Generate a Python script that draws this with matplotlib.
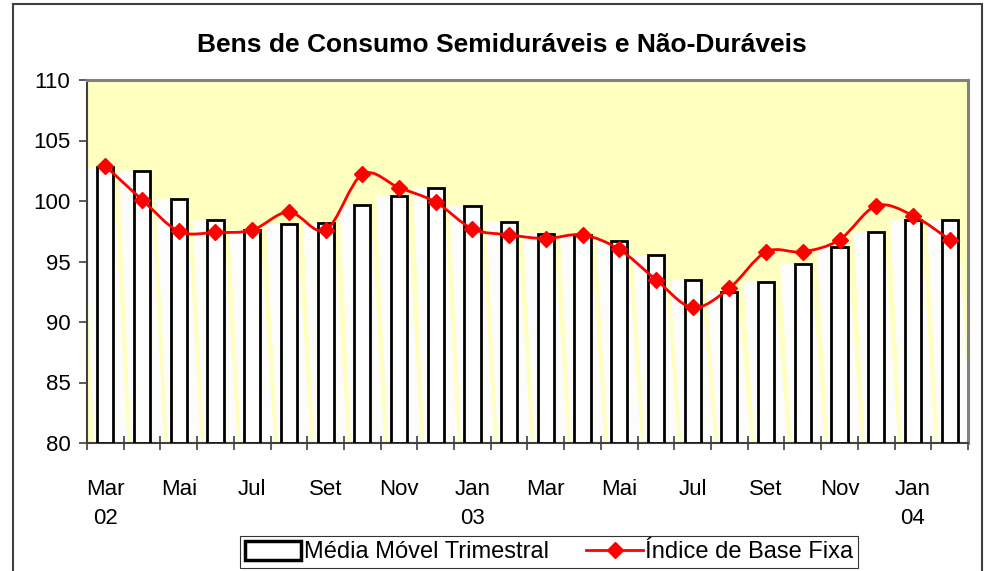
import matplotlib
matplotlib.use("Agg")
import matplotlib.pyplot as plt
import numpy as np
from matplotlib.path import Path
from matplotlib.patches import PathPatch, Patch, Rectangle
from matplotlib.lines import Line2D

plt.rcParams['font.family'] = ['Liberation Sans', 'DejaVu Sans']

title = "Bens de Consumo Semiduráveis e Não-Duráveis"
months = ["Mar 02", "Abr 02", "Mai 02", "Jun 02", "Jul 02", "Ago 02", "Set 02", "Out 02",
          "Nov 02", "Dez 02", "Jan 03", "Fev 03", "Mar 03", "Abr 03", "Mai 03", "Jun 03",
          "Jul 03", "Ago 03", "Set 03", "Out 03", "Nov 03", "Dez 03", "Jan 04", "Fev 04"]
media_movel = [102.8, 102.5, 100.2, 98.4, 97.6, 98.1, 98.2, 99.7,
               100.4, 101.1, 99.6, 98.3, 97.3, 97.2, 96.7, 95.5,
               93.5, 92.5, 93.3, 94.8, 96.2, 97.4, 98.4, 98.4]
indice_base_fixa = [102.9, 100.1, 97.5, 97.4, 97.6, 99.1, 97.6, 102.2,
                    101.1, 99.9, 97.7, 97.2, 96.9, 97.2, 96.0, 93.5,
                    91.2, 92.8, 95.8, 95.8, 96.8, 99.6, 98.8, 96.8]
tick_labels = ["Mar\n02", "Mai", "Jul", "Set", "Nov", "Jan\n03",
               "Mar", "Mai", "Jul", "Set", "Nov", "Jan\n04"]
legend_labels = ["Média Móvel Trimestral", "Índice de Base Fixa"]

ymin, ymax = 80, 110
n = len(media_movel)
x = np.arange(n)

fig = plt.figure(figsize=(9.87, 5.71), dpi=100)
fig.patch.set_facecolor('white')
ax = fig.add_axes([87/987, 1-443/571, (968-87)/987, (443-80)/571])
ax.set_facecolor('#FFFFC0')

# shadow shapes behind bars
for i, h in enumerate(media_movel):
    poly = [(i-0.62, h), (i+0.22, h), (i+0.6, ymin), (i-0.31, ymin)]
    ax.fill(*zip(*poly), color='#FCFCFA', lw=0, zorder=1)

ax.bar(x, [v - ymin for v in media_movel], bottom=ymin, width=0.44,
       color='white', edgecolor='black', linewidth=2.0, zorder=3)

# smoothed line (Bezier through points)
pts = np.column_stack([x, indice_base_fixa]).astype(float)
verts = [tuple(pts[0])]
codes = [Path.MOVETO]
for i in range(n-1):
    p0 = pts[max(i-1, 0)]
    p1 = pts[i]
    p2 = pts[i+1]
    p3 = pts[min(i+2, n-1)]
    c1 = p1 + (p2 - p0) / 6.0
    c2 = p2 - (p3 - p1) / 6.0
    verts += [tuple(c1), tuple(c2), tuple(p2)]
    codes += [Path.CURVE4]*3
ax.add_patch(PathPatch(Path(verts, codes), facecolor='none', edgecolor='#FF0000',
                       lw=2.0, zorder=4))
ax.plot(x, indice_base_fixa, linestyle='none', marker='D', markersize=8,
        color='#FF0000', zorder=5)

ax.set_xlim(-0.5, n-0.5)
ax.set_ylim(ymin, ymax)
ax.set_yticks(np.arange(80, 111, 5))
ax.tick_params(axis='y', direction='out', length=6, width=1.2, color='#404040',
               labelsize=16, pad=6)
ax.set_xticks(np.arange(-0.5, n, 1))
ax.set_xticklabels([])
ax.tick_params(axis='x', which='major', direction='inout', length=10, width=1.2,
               color='#404040')
ax.set_xticks(np.arange(0, n, 2), minor=True)
ax.set_xticklabels(tick_labels, minor=True, fontsize=16, linespacing=1.5,
                   va='top')
ax.tick_params(axis='x', which='minor', length=0, pad=26)

for s in ['left', 'bottom']:
    ax.spines[s].set_color('#404040')
    ax.spines[s].set_linewidth(1.5)
for s in ['top', 'right']:
    ax.spines[s].set_color('#808080')
    ax.spines[s].set_linewidth(2.2)

fig.text(502/987, 1-45/571, title, ha='center', va='center', fontsize=19,
         fontweight='bold')

handles = [Patch(facecolor='white', edgecolor='black', linewidth=2.5),
           Line2D([0], [0], color='#FF0000', lw=2, marker='D', markersize=8)]
leg = fig.legend(handles, legend_labels, loc='center', bbox_to_anchor=(549/987, 1-552/571),
                 ncol=2, fontsize=17, frameon=True, fancybox=False, edgecolor='black',
                 handlelength=2.4, handleheight=0.9, handletextpad=0.1, columnspacing=1.6,
                 borderpad=0.2, borderaxespad=0)
leg.get_frame().set_linewidth(0.8)

fig.add_artist(Rectangle((13/987, -0.05), (982-13)/987, 1.05-4/571,
                         transform=fig.transFigure, fill=False,
                         edgecolor='#404040', lw=1.5))

fig.savefig('out.png', dpi=100)
